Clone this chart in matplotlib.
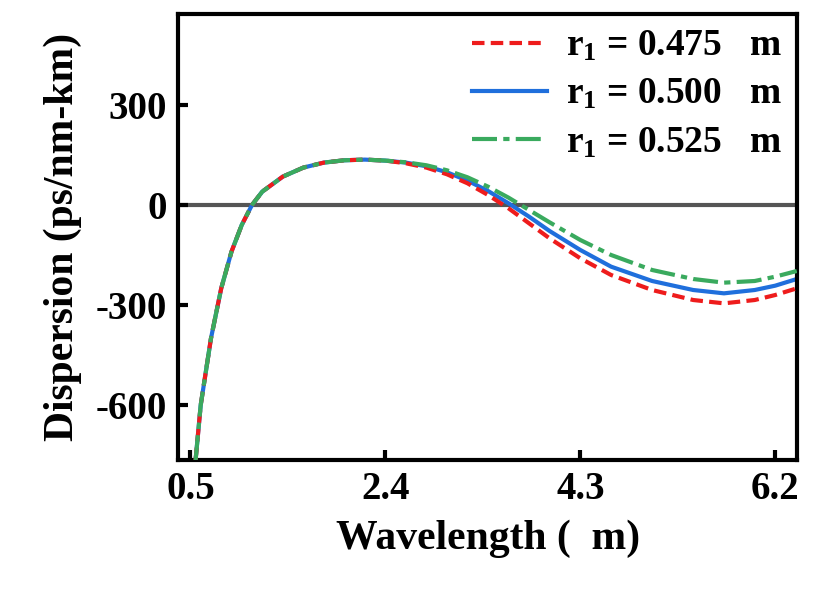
import matplotlib
matplotlib.use("Agg")
import matplotlib.pyplot as plt

x_common = [0.55, 0.6, 0.7, 0.8, 0.9, 1.0, 1.1, 1.2, 1.4, 1.6, 1.8, 2.0, 2.2, 2.4]
y_common = [-765, -600, -400, -250, -140, -60, 0, 40, 85, 112, 127, 134, 136, 133]
x_tail = [2.6, 2.8, 3.0, 3.2, 3.4, 3.6, 3.8, 4.0, 4.3, 4.6, 5.0, 5.4, 5.7, 6.0, 6.2, 6.41]
red_tail = [125, 112, 92, 65, 30, -10, -55, -100, -160, -210, -255, -285, -295, -285, -270, -250]
blue_tail = [127, 116, 98, 73, 42, 5, -35, -78, -135, -185, -228, -255, -265, -255, -242, -222]
green_tail = [128, 119, 104, 83, 55, 22, -15, -52, -105, -150, -195, -222, -233, -228, -215, -198]
labels = ["r$_\\mathbf{1}$ = 0.475   m", "r$_\\mathbf{1}$ = 0.500   m", "r$_\\mathbf{1}$ = 0.525   m"]
xticks = [0.5, 2.4, 4.3, 6.2]
yticks = [-600, -300, 0, 300]

plt.rcParams["font.family"] = "Liberation Serif"
plt.rcParams["font.weight"] = "bold"
plt.rcParams["axes.unicode_minus"] = False
plt.rcParams["mathtext.fontset"] = "custom"
plt.rcParams["mathtext.bf"] = "Liberation Serif:bold"
plt.rcParams["mathtext.rm"] = "Liberation Serif:bold"
plt.rcParams["mathtext.default"] = "bf"

fig = plt.figure(figsize=(8.3, 6.03), dpi=100)
ax = fig.add_axes([0.215, 0.237, 0.745, 0.74])
X = x_common + x_tail
ax.axhline(0, color="#555555", lw=3, zorder=1)
ax.plot(X, y_common + red_tail, color="#ee1c1c", ls=(0, (3, 1.5)), lw=3, label=labels[0], zorder=3)
ax.plot(X, y_common + blue_tail, color="#1f6fdc", ls="-", lw=3, label=labels[1], zorder=2)
ax.plot(X, y_common + green_tail, color="#3aaa5e", ls=(0, (6, 1.5, 1.5, 1.5)), lw=3, label=labels[2], zorder=4)
ax.set_xlim(0.383, 6.41)
ax.set_ylim(-765, 573)
ax.set_xticks(xticks)
ax.set_xticklabels([f"{v:.1f}" for v in xticks])
ax.set_yticks(yticks)
ax.tick_params(direction="in", width=3, length=7, labelsize=28, pad=8)
for s in ax.spines.values():
    s.set_linewidth(3)
ax.set_xlabel("Wavelength (  m)", fontsize=30, fontweight="bold", labelpad=8)
ax.set_ylabel("Dispersion (ps/nm-km)", fontsize=30, fontweight="bold", labelpad=10)
leg = ax.legend(loc="upper right", frameon=False, fontsize=27, handlelength=2.0,
                borderaxespad=0.0, labelspacing=0.35, handletextpad=0.5)
fig.savefig("out.png", dpi=100)
